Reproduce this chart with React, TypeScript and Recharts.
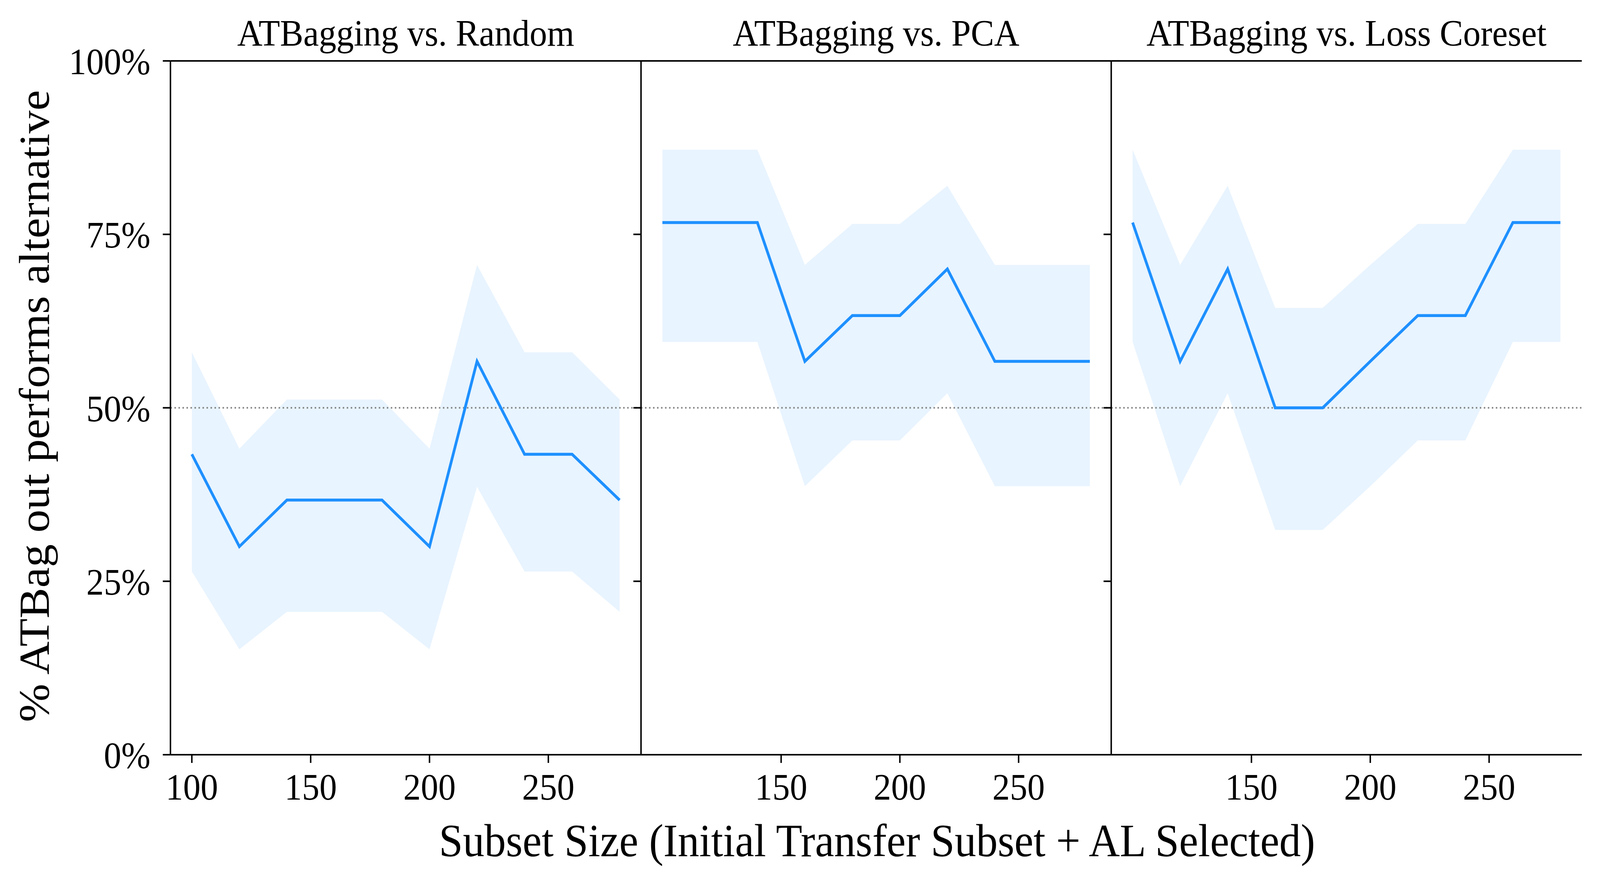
import React from "react";
import {
  ComposedChart,
  Area,
  Line,
  XAxis,
  YAxis,
  ReferenceLine,
} from "recharts";

const FONT = '"Liberation Serif", "Times New Roman", serif';
const BLUE = "#1E90FF";

// subset sizes (x)
const sizes = [100, 120, 140, 160, 180, 200, 220, 240, 260, 280];

// ATBagging vs. Random
const randomMean = [43.3, 30.0, 36.7, 36.7, 36.7, 30.0, 56.7, 43.3, 43.3, 36.7];
const randomLow = [26.4, 15.2, 20.6, 20.6, 20.6, 15.2, 38.6, 26.4, 26.4, 20.6];
const randomHigh = [58.0, 44.1, 51.2, 51.2, 51.2, 44.1, 70.6, 58.0, 58.0, 51.2];

// ATBagging vs. PCA
const pcaMean = [76.7, 76.7, 76.7, 56.7, 63.3, 63.3, 70.0, 56.7, 56.7, 56.7];
const pcaLow = [59.5, 59.5, 59.5, 38.7, 45.3, 45.3, 52.1, 38.7, 38.7, 38.7];
const pcaHigh = [87.2, 87.2, 87.2, 70.6, 76.5, 76.5, 82.0, 70.6, 70.6, 70.6];

// ATBagging vs. Loss Coreset
const coresetMean = [76.7, 56.7, 70.0, 50.0, 50.0, 56.7, 63.3, 63.3, 76.7, 76.7];
const coresetLow = [59.5, 38.7, 52.1, 32.4, 32.4, 38.7, 45.3, 45.3, 59.5, 59.5];
const coresetHigh = [87.2, 70.6, 82.0, 64.4, 64.4, 70.6, 76.5, 76.5, 87.2, 87.2];

const yTicks = [0, 25, 50, 75, 100];
const firstXTicks = [100, 150, 200, 250];
const otherXTicks = [150, 200, 250];

const titles = [
  "ATBagging vs. Random",
  "ATBagging vs. PCA",
  "ATBagging vs. Loss Coreset",
];

const build = (mean: number[], low: number[], high: number[]) =>
  sizes.map((x, i) => ({ x, mean: mean[i], band: [low[i], high[i]] }));

const panels = [
  build(randomMean, randomLow, randomHigh),
  build(pcaMean, pcaLow, pcaHigh),
  build(coresetMean, coresetLow, coresetHigh),
];

// layout (px, in the 4393x2259 design space)
const W = 4393;
const H = 2259;
const PLOT_TOP = 156;
const PLOT_H = 1777;
const edges = [468, 1760, 3051, 4343];
const TOP_M = 70;
const X_AXIS_H = 150;
const TICK_LEN = 21;
const AXIS_W = 4;

function Panel({ idx }: { idx: number }) {
  const plotLeft = edges[idx];
  const plotW = edges[idx + 1] - edges[idx];
  const yw = idx === 0 ? plotLeft : 40;
  const chartLeft = plotLeft - yw;
  const width = yw + plotW + 10;
  const height = TOP_M + PLOT_H + X_AXIS_H;
  const axisStroke = { stroke: "#000", strokeWidth: AXIS_W };
  const tickStyle = { fontSize: 96, fontFamily: FONT, fill: "#000" };

  return (
    <div style={{ position: "absolute", left: chartLeft, top: PLOT_TOP - TOP_M }}>
      <ComposedChart
        width={width}
        height={height}
        data={panels[idx]}
        margin={{ top: TOP_M, right: 10, bottom: 0, left: 0 }}
      >
        <XAxis
          dataKey="x"
          type="number"
          domain={[91, 289]}
          allowDataOverflow
          ticks={idx === 0 ? firstXTicks : otherXTicks}
          interval={0}
          height={X_AXIS_H}
          tickSize={TICK_LEN}
          tickMargin={26}
          axisLine={axisStroke}
          tickLine={axisStroke}
          tick={tickStyle}
        />
        <YAxis
          type="number"
          domain={[0, 100]}
          ticks={yTicks}
          interval={0}
          width={yw}
          tickSize={TICK_LEN}
          tickMargin={34}
          axisLine={axisStroke}
          tickLine={axisStroke}
          tick={tickStyle}
          tickFormatter={(v: number) => (idx === 0 ? `${v}%` : "")}
        />
        <YAxis
          yAxisId="right"
          orientation="right"
          domain={[0, 100]}
          width={0}
          tick={false}
          tickLine={false}
          axisLine={axisStroke}
        />
        <Area
          dataKey="band"
          type="linear"
          stroke="none"
          fill={BLUE}
          fillOpacity={0.1}
          dot={false}
          activeDot={false}
          isAnimationActive={false}
        />
        <ReferenceLine
          y={50}
          stroke="#808080"
          strokeWidth={4}
          strokeDasharray="4 7"
        />
        {/* top spine */}
        <ReferenceLine y={100} stroke="#000" strokeWidth={AXIS_W} />
        <Line
          dataKey="mean"
          type="linear"
          stroke={BLUE}
          strokeWidth={7.5}
          dot={false}
          activeDot={false}
          isAnimationActive={false}
        />
      </ComposedChart>
    </div>
  );
}

export default function App() {
  // fit the design into whatever viewport we actually get
  const vw = typeof window !== "undefined" ? window.innerWidth : W;
  const vh = typeof window !== "undefined" ? window.innerHeight : H;
  const sx = Math.min(1, vw / W);
  const sy = Math.min(1, vh / H);
  return (
    <div
      style={{
        position: "absolute",
        left: 0,
        top: 0,
        width: W,
        height: H,
        background: "#fff",
        fontFamily: FONT,
        color: "#000",
        overflow: "hidden",
        transform: `scale(${sx}, ${sy})`,
        transformOrigin: "0 0",
      }}
    >
      {titles.map((t, i) => (
        <div
          key={t}
          style={{
            position: "absolute",
            left: (edges[i] + edges[i + 1]) / 2,
            top: 85,
            transform: "translate(-50%, -50%)",
            fontSize: 96,
            lineHeight: 1,
            whiteSpace: "nowrap",
          }}
        >
          {t}
        </div>
      ))}
      <Panel idx={0} />
      <Panel idx={1} />
      <Panel idx={2} />
      <div
        style={{
          position: "absolute",
          left: 95,
          top: 1040,
          transform: "translate(-50%, -50%) rotate(-90deg)",
          fontSize: 118,
          lineHeight: 1,
          whiteSpace: "nowrap",
        }}
      >
        % ATBag out performs alternative
      </div>
      <div
        style={{
          position: "absolute",
          left: 2408,
          top: 2154,
          transform: "translate(-50%, -50%)",
          fontSize: 118,
          lineHeight: 1,
          whiteSpace: "nowrap",
        }}
      >
        Subset Size (Initial Transfer Subset + AL Selected)
      </div>
    </div>
  );
}
